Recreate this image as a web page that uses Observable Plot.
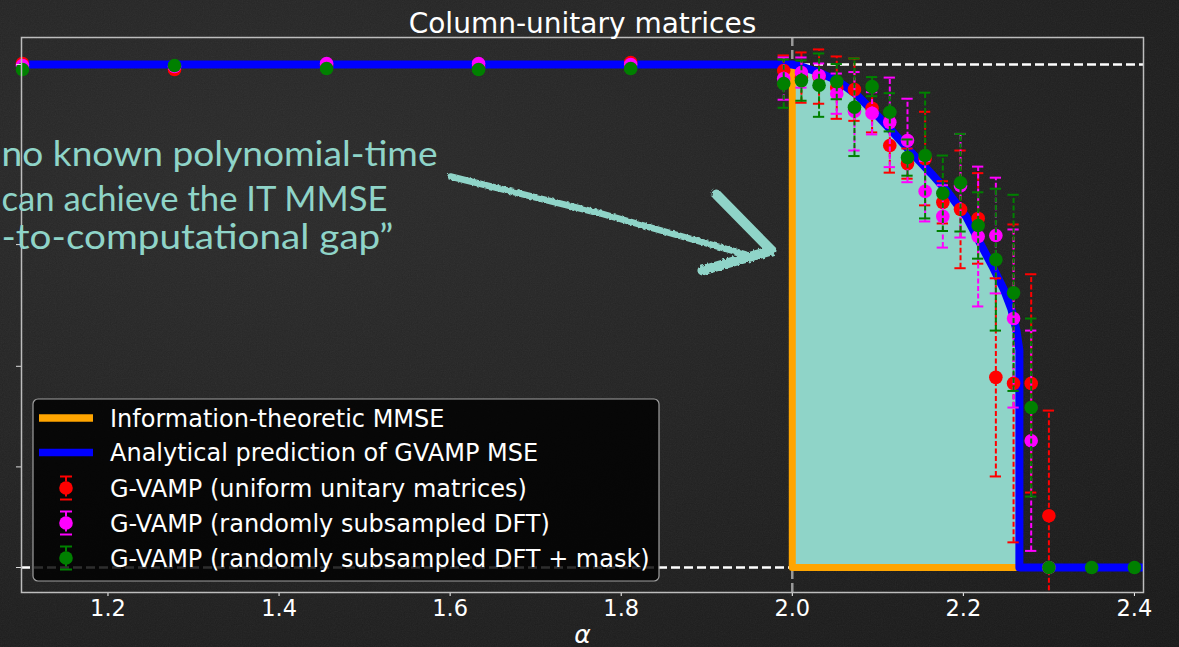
<!DOCTYPE html>
<html>
<head>
<meta charset="utf-8">
<script src="https://cdn.jsdelivr.net/npm/d3@7"></script>
<script src="https://cdn.jsdelivr.net/npm/@observablehq/plot@0.6"></script>
<style>
  html, body { margin: 0; padding: 0; width: 1179px; height: 647px; overflow: hidden; }
  body { background: radial-gradient(ellipse at 22% 28%, #2b2b2b 0%, #232323 45%, #181818 100%); }
  #noise { position: absolute; left: 0; top: 0; z-index: 0; }
  #chart { position: absolute; left: 0; top: 0; z-index: 1; width: 1179px; height: 647px; }
</style>
</head>
<body>
<svg id="noise" width="1179" height="647">
  <filter id="nz"><feTurbulence type="fractalNoise" baseFrequency="0.85" numOctaves="2" stitchTiles="stitch"/><feColorMatrix type="saturate" values="0"/></filter>
  <rect width="1179" height="647" filter="url(#nz)" opacity="0.07"/>
</svg>
<div id="chart"></div>
<script>
// ---------------- data ----------------
const titleText = "Column-unitary matrices";
const xLabel = "α";
const xTicks = [1.2, 1.4, 1.6, 1.8, 2.0, 2.2, 2.4];
const yTicks = [0, 0.2, 0.4, 0.642, 1.0];

// alpha grids of the simulations
const alphaSparse = [1.1, 1.2778, 1.4556, 1.6333, 1.8111];
const alphaDense = [1.99, 2.0107, 2.0313, 2.052, 2.0727, 2.0933, 2.114, 2.1347, 2.1553, 2.176, 2.1967, 2.2173, 2.238, 2.2587, 2.2793, 2.3];
const alphaTail = [2.35, 2.4];

// G-VAMP (uniform unitary matrices)
const redMSE = [1.002, 0.990, 0.998, 0.996, 1.004,
  0.988, 0.974, 0.976, 0.954, 0.950, 0.913, 0.839, 0.803, 0.813, 0.726, 0.712, 0.694, 0.378, 0.366, 0.366, 0.103];
const redErr = [0.004, 0.004, 0.004, 0.004, 0.004,
  0.03, 0.05, 0.054, 0.062, 0.062, 0.048, 0.054, 0.03, 0.093, 0.042, 0.117, 0.09, 0.197, 0.316, 0.217, 0.209];

// G-VAMP (randomly subsampled DFT)
const magentaMSE = [0.998, 0.996, 1.002, 1.002, 1.0,
  0.972, 0.984, 0.978, 0.942, 0.907, 0.903, 0.885, 0.849, 0.748, 0.698, 0.759, 0.658, 0.660, 0.495, 0.252, 0.0];
const magentaErr = [0.004, 0.004, 0.004, 0.004, 0.004,
  0.042, 0.03, 0.024, 0.04, 0.078, 0.042, 0.089, 0.083, 0.06, 0.062, 0.103, 0.139, 0.115, 0.177, 0.219, 0];

// G-VAMP (randomly subsampled DFT + mask)
const greenMSE = [0.990, 0.998, 0.992, 0.990, 0.992,
  0.962, 0.968, 0.959, 0.966, 0.915, 0.956, 0.905, 0.815, 0.819, 0.744, 0.765, 0.680, 0.612, 0.546, 0.318, 0.0, 0.0, 0.0];
const greenErr = [0.004, 0.004, 0.004, 0.004, 0.004,
  0.048, 0.04, 0.063, 0.035, 0.097, 0.019, 0.038, 0.036, 0.125, 0.075, 0.097, 0.066, 0.141, 0.195, 0.177, 0, 0, 0];

// Analytical prediction of GVAMP MSE
const blueAlpha = [1.05, 2.0, 2.0105, 2.0316, 2.0526, 2.0737, 2.0947, 2.1158, 2.1392, 2.1626, 2.1825, 2.2035, 2.2211, 2.2351, 2.248, 2.2561, 2.262, 2.2655, 2.2655, 2.45];
const blueMSE  = [1, 1, 0.996, 0.984, 0.968, 0.942, 0.907, 0.869, 0.825, 0.783, 0.745, 0.697, 0.640, 0.595, 0.550, 0.514, 0.472, 0.432, 0, 0];

// Information-theoretic MMSE
const orangeAlpha = [1.05, 2.0, 2.0, 2.2655];
const orangeMSE = [1, 1, 0, 0];

// hand-drawn annotation
const noteLines = ["no known polynomial-time", "can achieve the IT MMSE", "-to-computational gap”"];
const arrowShaftAlpha = [1.6004, 1.7758, 1.9453];
const arrowShaftMSE = [0.7773, 0.7038, 0.6223];
const arrowHeadAlpha = [1.9114, 1.9757, 1.895];
const arrowHeadMSE = [0.7416, 0.6302, 0.5905];

const legendLabels = [
  "Information-theoretic MMSE",
  "Analytical prediction of GVAMP MSE",
  "G-VAMP (uniform unitary matrices)",
  "G-VAMP (randomly subsampled DFT)",
  "G-VAMP (randomly subsampled DFT + mask)"
];

// ---------------- build tables ----------------
const alphaRM = alphaSparse.concat(alphaDense);
const alphaG = alphaRM.concat(alphaTail);
const red = alphaRM.map((a, i) => ({a, m: redMSE[i], e: redErr[i]}));
const magenta = alphaRM.map((a, i) => ({a, m: magentaMSE[i], e: magentaErr[i]}));
const green = alphaG.map((a, i) => ({a, m: greenMSE[i], e: greenErr[i]}));
const blue = blueAlpha.map((a, i) => ({a, m: blueMSE[i]}));
const orange = orangeAlpha.map((a, i) => ({a, m: orangeMSE[i]}));
const shaft = arrowShaftAlpha.map((a, i) => ({a, m: arrowShaftMSE[i]}));
const head = arrowHeadAlpha.map((a, i) => ({a, m: arrowHeadMSE[i]}));

const C = {red: "#ff0000", magenta: "#ff00ff", green: "#008000", blue: "#0000ff", orange: "#ffa500", teal: "#8fd4c8"};
const capHalf = 0.0066;

function errMarks(data, color) {
  const d = data.filter(r => r.e > 0);
  return [
    Plot.ruleX(d, {x: "a", y1: r => r.m - r.e, y2: r => r.m + r.e, stroke: color, strokeWidth: 2, strokeDasharray: "5,2.5", clip: true}),
    Plot.ruleY(d, {y: r => r.m + r.e, x1: r => r.a - capHalf, x2: r => r.a + capHalf, stroke: color, strokeWidth: 2, clip: true}),
    Plot.ruleY(d, {y: r => r.m - r.e, x1: r => r.a - capHalf, x2: r => r.a + capHalf, stroke: color, strokeWidth: 2, clip: true}),
    Plot.dot(data, {x: "a", y: "m", r: 6.8, fill: color, stroke: "none"})
  ];
}

const plot = Plot.plot({
  width: 1179,
  height: 647,
  marginLeft: 21,
  marginRight: 36,
  marginTop: 37,
  marginBottom: 55,
  style: {background: "transparent", color: "white", fontFamily: "DejaVu Sans", fontSize: "22.5px", overflow: "visible"},
  x: {domain: [1.0989, 2.4106]},
  y: {domain: [-0.0497, 1.0537]},
  marks: [
    Plot.ruleY([0, 1], {stroke: "white", strokeWidth: 2.5, strokeDasharray: "9,4"}),
    Plot.ruleX([2.0], {stroke: "#999", strokeWidth: 2.5, strokeDasharray: "9,4"}),
    Plot.areaY(blue.filter(d => d.a >= 2.0), {x: "a", y: "m", fill: C.teal}),
    Plot.line(orange, {x: "a", y: "m", stroke: C.orange, strokeWidth: 7, clip: true}),
    Plot.line(blue, {x: "a", y: "m", stroke: C.blue, strokeWidth: 8, clip: true}),
    ...errMarks(red, C.red),
    ...errMarks(magenta, C.magenta),
    ...errMarks(green, C.green),
    Plot.axisX({ticks: xTicks, tickFormat: d3.format(".1f"), tickSize: 4, tickPadding: 3.5, label: null, color: "white"}),
    Plot.axisY({ticks: yTicks, tickFormat: () => "", tickSize: 5, label: null, color: "#ddd"}),
    Plot.frame({stroke: "#bdbdbd", strokeWidth: 1.5}),
    Plot.text([titleText], {frameAnchor: "top", dy: -5, lineAnchor: "bottom", fontSize: 28, fill: "white"}),
    Plot.text([xLabel], {frameAnchor: "bottom", dy: 42, lineAnchor: "middle", fontSize: 25, fontStyle: "italic", fill: "white"}),
    // annotation
    Plot.line(shaft, {x: "a", y: "m", stroke: C.teal, strokeWidth: 6.5, strokeLinecap: "round"}),
    Plot.line(head, {x: "a", y: "m", stroke: C.teal, strokeWidth: 10, strokeLinecap: "round", strokeLinejoin: "round"}),
    Plot.text([noteLines[0]], {frameAnchor: "top-left", dx: -20, dy: 128, lineAnchor: "bottom", textAnchor: "start", fontSize: 34, fontFamily: "Lato", fill: C.teal}),
    Plot.text([noteLines[1]], {frameAnchor: "top-left", dx: -20, dy: 173, lineAnchor: "bottom", textAnchor: "start", fontSize: 34, fontFamily: "Lato", fill: C.teal}),
    Plot.text([noteLines[2]], {frameAnchor: "top-left", dx: -20, dy: 211, lineAnchor: "bottom", textAnchor: "start", fontSize: 34, fontFamily: "Lato", fill: C.teal})
  ]
});

document.getElementById("chart").appendChild(plot);

const svg = d3.select(plot);

// chalky edge for the hand-drawn arrow
const defs = svg.append("defs");
const f = defs.append("filter").attr("id", "chalk").attr("x", "-10%").attr("y", "-30%").attr("width", "120%").attr("height", "160%");
f.append("feTurbulence").attr("type", "fractalNoise").attr("baseFrequency", "0.35").attr("numOctaves", 2).attr("result", "t");
f.append("feDisplacementMap").attr("in", "SourceGraphic").attr("in2", "t").attr("scale", 4);
svg.selectAll("path").filter(function () { return d3.select(this.parentNode).attr("stroke") === C.teal || d3.select(this).attr("stroke") === C.teal; })
  .attr("filter", "url(#chalk)");

// fit the annotation lines to their widths in the slide
const noteWidths = [436, 386, 392];
svg.selectAll("text").each(function () {
  const t = this.textContent;
  const i = noteLines.indexOf(t);
  if (i >= 0) {
    d3.select(this).attr("textLength", noteWidths[i]).attr("lengthAdjust", "spacingAndGlyphs");
    d3.select(this).selectAll("tspan").attr("textLength", noteWidths[i]).attr("lengthAdjust", "spacingAndGlyphs");
  }
});

// legend
const lg = svg.append("g").attr("font-family", "DejaVu Sans").attr("font-size", 24).attr("text-anchor", "start");
lg.append("rect").attr("x", 33).attr("y", 399).attr("width", 626).attr("height", 182)
  .attr("rx", 5).attr("fill", "#000").attr("fill-opacity", 0.82).attr("stroke", "#a0a0a0").attr("stroke-width", 1.2);
const rowY = [418, 452.5, 488, 523, 558];
const legendColors = [C.orange, C.blue, C.red, C.magenta, C.green];
legendLabels.forEach((lab, i) => {
  const y = rowY[i];
  if (i < 2) {
    lg.append("line").attr("x1", 39).attr("x2", 93).attr("y1", y).attr("y2", y)
      .attr("stroke", legendColors[i]).attr("stroke-width", 7.5);
  } else {
    lg.append("line").attr("x1", 66).attr("x2", 66).attr("y1", y - 11.5).attr("y2", y + 11.5)
      .attr("stroke", legendColors[i]).attr("stroke-width", 2).attr("stroke-dasharray", "5,2.5");
    [-11.5, 11.5].forEach(o => lg.append("line").attr("x1", 60).attr("x2", 72).attr("y1", y + o).attr("y2", y + o)
      .attr("stroke", legendColors[i]).attr("stroke-width", 2));
    lg.append("circle").attr("cx", 66).attr("cy", y).attr("r", 6.8).attr("fill", legendColors[i]);
  }
  lg.append("text").attr("x", 110).attr("y", y + 8.5).attr("fill", "white").attr("text-anchor", "start").text(lab);
});
</script>
</body>
</html>
